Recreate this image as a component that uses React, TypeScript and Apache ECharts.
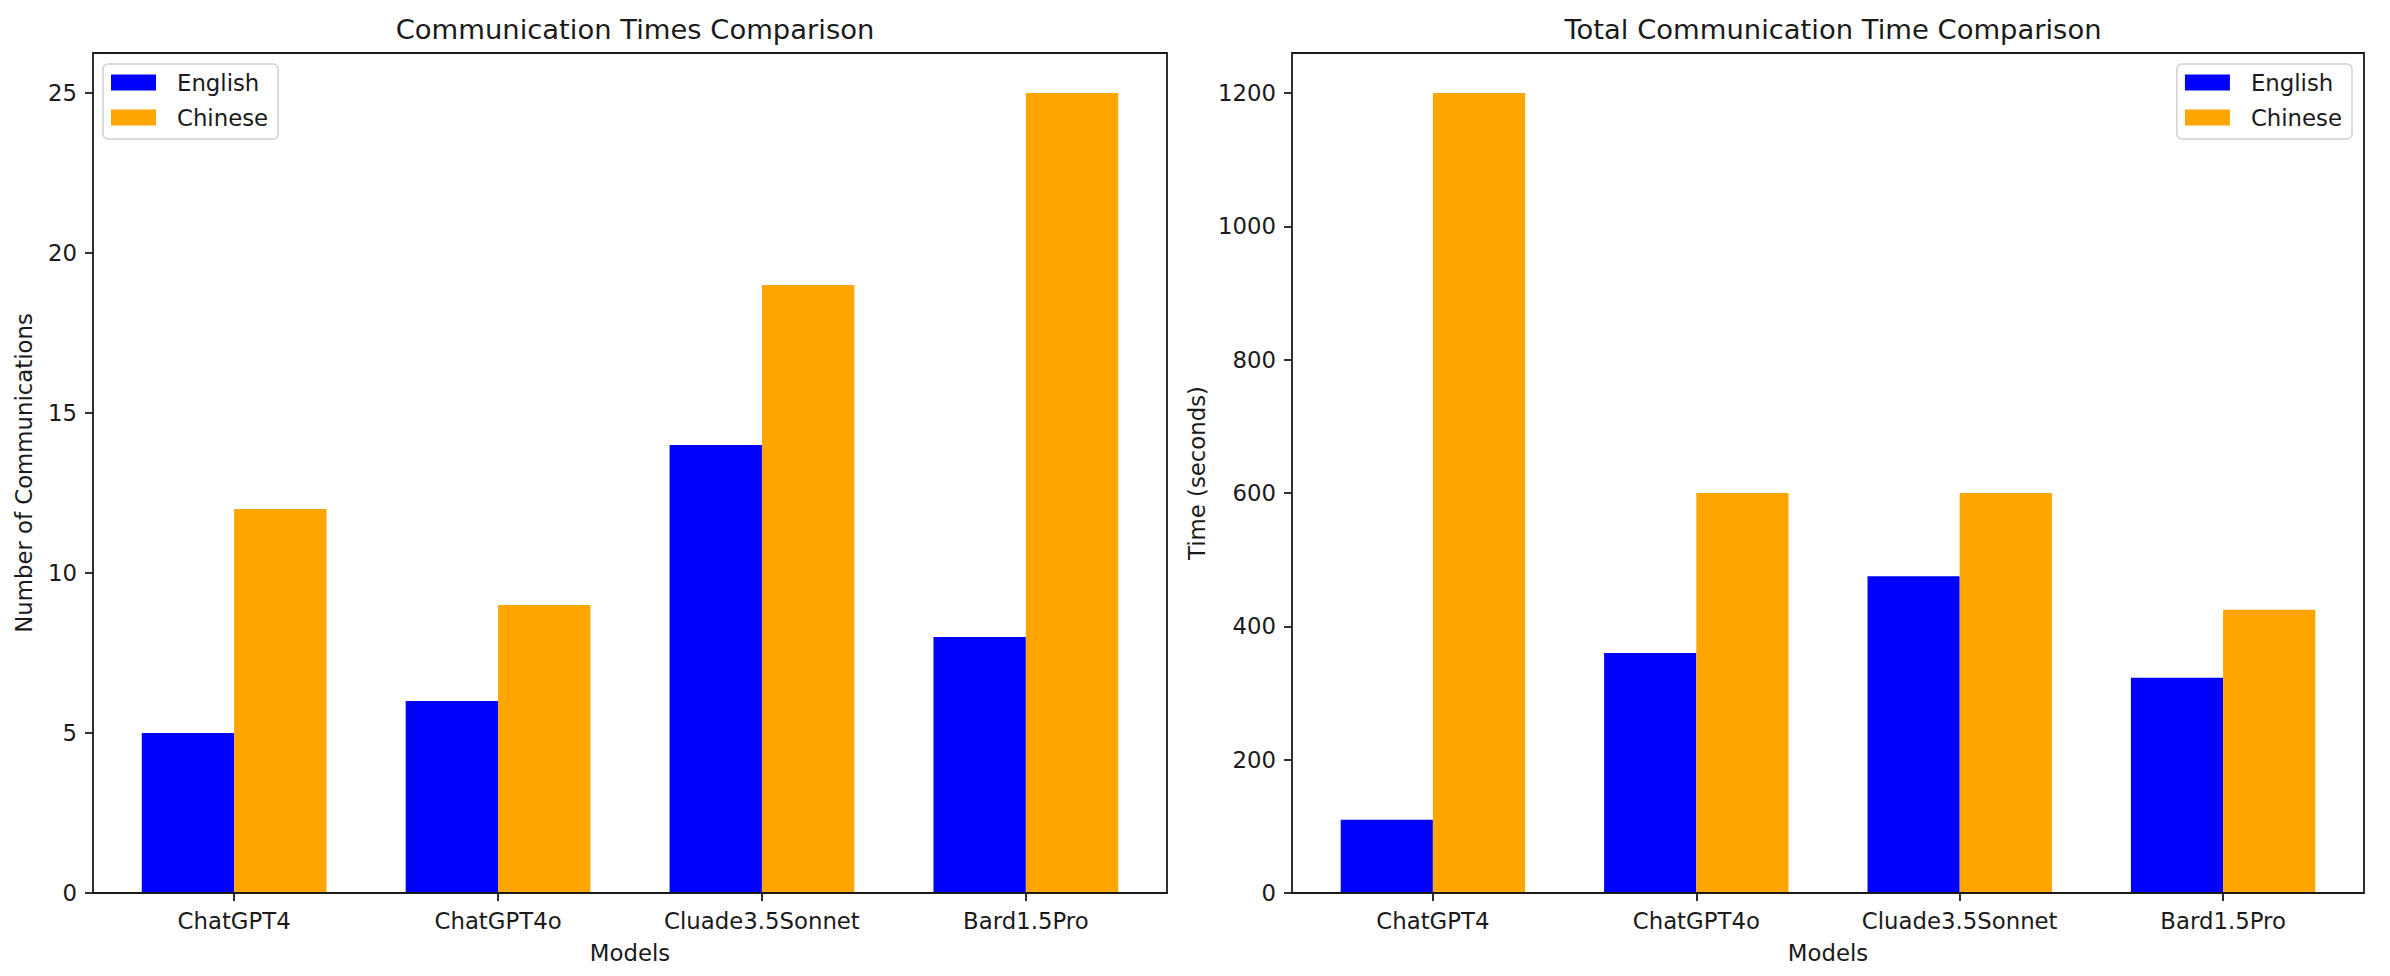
import React, { useEffect, useRef } from "react";
import * as echarts from "echarts";

const categories = ["ChatGPT4", "ChatGPT4o", "Cluade3.5Sonnet", "Bard1.5Pro"];
const seriesNames = ["English", "Chinese"];
const countEnglish = [5, 6, 14, 8];
const countChinese = [12, 9, 19, 25];
const timeEnglish = [110, 360, 475, 323];
const timeChinese = [1200, 600, 600, 425];
const countTicks = [0, 5, 10, 15, 20, 25];
const timeTicks = [0, 200, 400, 600, 800, 1000, 1200];
const countAxisMax = 26.25;
const timeAxisMax = 1260;

const FONT = "DejaVu Sans";
const INK = "#1a1a1a";
const BLUE = "#0000ff";
const ORANGE = "#ffa500";

export default function App() {
  const ref = useRef<HTMLDivElement>(null);

  useEffect(() => {
    if (!ref.current) return;
    const chart = echarts.init(ref.current, undefined, { renderer: "svg" });

    const top = 53;
    const height = 840;
    const pad = 9.2;
    const L = { left: 93, width: 1074 };
    const R = { left: 1292, width: 1072 };

    const frameGrid = (g: { left: number; width: number }) => ({
      left: g.left,
      top,
      width: g.width,
      height,
      show: true,
      borderColor: INK,
      borderWidth: 1.8,
      backgroundColor: "transparent",
    });
    const dataGrid = (g: { left: number; width: number }) => ({
      left: g.left + pad,
      top,
      width: g.width - 2 * pad,
      height,
    });

    const valueYAxis = (gridIndex: number, max: number, ticks: number[], name: string, nameGap: number) => ({
      type: "value",
      gridIndex,
      min: 0,
      max,
      name,
      nameLocation: "middle",
      nameGap,
      nameTextStyle: { fontFamily: FONT, fontSize: 22.8, color: INK },
      axisLine: { show: false },
      axisTick: {
        show: true,
        length: 8,
        customValues: ticks,
        lineStyle: { color: INK, width: 1.8 },
      },
      axisLabel: {
        show: true,
        margin: 16,
        customValues: ticks,
        formatter: (v: number) => String(v),
        fontFamily: FONT,
        fontSize: 22.8,
        color: INK,
      },
      splitLine: { show: false },
    });
    const hiddenY = (gridIndex: number, max: number) => ({
      type: "value",
      gridIndex,
      min: 0,
      max,
      show: false,
      splitLine: { show: false },
    });
    const hiddenX = (gridIndex: number) => ({
      type: "value",
      gridIndex,
      show: false,
      splitLine: { show: false },
    });
    const catXAxis = (gridIndex: number) => ({
      type: "category",
      gridIndex,
      data: categories,
      z: 5,
      name: "Models",
      nameLocation: "middle",
      nameGap: 48,
      nameTextStyle: { fontFamily: FONT, fontSize: 22.8, color: INK },
      axisLine: { show: true, lineStyle: { color: INK, width: 1.8 } },
      axisTick: {
        show: true,
        alignWithLabel: true,
        length: 8,
        lineStyle: { color: INK, width: 1.8 },
      },
      axisLabel: {
        margin: 16,
        fontFamily: FONT,
        fontSize: 22.8,
        color: INK,
        interval: 0,
      },
      splitLine: { show: false },
    });

    const legend = (pos: Record<string, number>) => ({
      ...pos,
      top: 64,
      orient: "vertical",
      data: seriesNames,
      icon: "rect",
      itemWidth: 45,
      itemHeight: 16,
      itemGap: 12,
      padding: [7, 10, 10, 8],
      borderColor: "#d0d0d0",
      borderWidth: 1.5,
      borderRadius: 5,
      backgroundColor: "rgba(255,255,255,0.8)",
      selectedMode: false,
      textStyle: {
        fontFamily: FONT,
        fontSize: 22.8,
        color: INK,
        padding: [0, 0, 0, 16],
      },
    });

    const bar = (name: string, data: number[], axisIndex: number, color: string) => ({
      type: "bar",
      name,
      data,
      xAxisIndex: axisIndex,
      yAxisIndex: axisIndex,
      barWidth: "35%",
      barGap: "0%",
      itemStyle: { color },
      emphasis: { disabled: true },
    });

    chart.setOption({
      animation: false,
      backgroundColor: "#ffffff",
      textStyle: { fontFamily: FONT },
      title: [
        {
          text: "Communication Times Comparison",
          left: L.left + L.width / 2,
          top: 11,
          textAlign: "center",
          textStyle: { fontFamily: FONT, fontSize: 27.4, fontWeight: "normal", color: INK },
        },
        {
          text: "Total Communication Time Comparison",
          left: R.left + R.width / 2,
          top: 11,
          textAlign: "center",
          textStyle: { fontFamily: FONT, fontSize: 27.4, fontWeight: "normal", color: INK },
        },
      ],
      legend: [legend({ left: 103 }), legend({ right: 38 })],
      grid: [frameGrid(L), dataGrid(L), frameGrid(R), dataGrid(R)],
      xAxis: [hiddenX(0), catXAxis(1), hiddenX(2), catXAxis(3)],
      yAxis: [
        valueYAxis(0, countAxisMax, countTicks, "Number of Communications", 58),
        hiddenY(1, countAxisMax),
        valueYAxis(2, timeAxisMax, timeTicks, "Time (seconds)", 84),
        hiddenY(3, timeAxisMax),
      ],
      series: [
        bar(seriesNames[0], countEnglish, 1, BLUE),
        bar(seriesNames[1], countChinese, 1, ORANGE),
        bar(seriesNames[0], timeEnglish, 3, BLUE),
        bar(seriesNames[1], timeChinese, 3, ORANGE),
      ],
    });

    return () => chart.dispose();
  }, []);

  return (
    <div
      ref={ref}
      style={{ position: "fixed", left: 0, top: 0, width: 2390, height: 976, background: "#fff" }}
    />
  );
}
